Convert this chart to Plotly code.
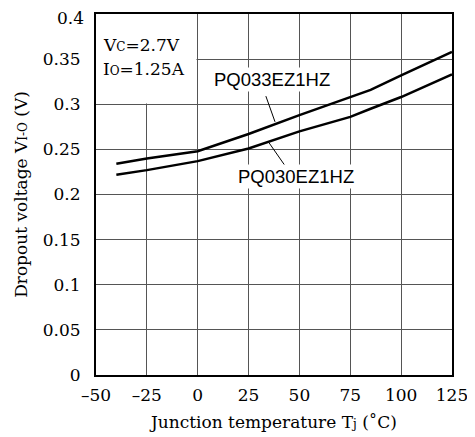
import plotly.graph_objects as go

temps_033 = [-40, -25, 0, 25, 50, 75, 85, 100, 125]
vio_033 = [0.234, 0.240, 0.248, 0.267, 0.288, 0.308, 0.316, 0.332, 0.358]
temps_030 = [-40, -25, 0, 25, 50, 75, 85, 100, 125]
vio_030 = [0.222, 0.227, 0.237, 0.251, 0.270, 0.286, 0.295, 0.308, 0.333]

x_ticks = [-50, -25, 0, 25, 50, 75, 100, 125]
x_ticktext = ["–50", "–25", "0", "25", "50", "75", "100", "125"]
y_ticks = [0, 0.05, 0.1, 0.15, 0.2, 0.25, 0.3, 0.35, 0.4]
y_ticktext = ["0", "0.05", "0.1", "0.15", "0.2", "0.25", "0.3", "0.35", "0.4"]

serif = "DejaVu Serif"
sans = "Liberation Sans"

fig = go.Figure()
fig.add_trace(go.Scatter(x=temps_033, y=vio_033, mode="lines",
                         line=dict(color="black", width=2.5), showlegend=False))
fig.add_trace(go.Scatter(x=temps_030, y=vio_030, mode="lines",
                         line=dict(color="black", width=2.5), showlegend=False))

# white box for conditions text (hides grid)
fig.add_shape(type="rect", xref="x", yref="y", x0=-50, x1=-0.6, y0=0.3007, y1=0.4,
              fillcolor="white", line=dict(width=0), layer="between")

fig.add_annotation(x=-47.5, y=0.3655, xref="x", yref="y", xanchor="left", yanchor="middle",
                   text="V<span style='font-size:12px'>C</span>=2.7V", showarrow=False,
                   font=dict(family=serif, size=17, color="black"))
fig.add_annotation(x=-47.5, y=0.3395, xref="x", yref="y", xanchor="left", yanchor="middle",
                   text="I<span style='font-size:12px'>O</span>=1.25A", showarrow=False,
                   font=dict(family=serif, size=17, color="black"))

# leader lines
fig.add_shape(type="line", xref="x", yref="y", x0=33.5, y0=0.309, x1=38.0, y1=0.2805,
              line=dict(color="black", width=1))
fig.add_shape(type="line", xref="x", yref="y", x0=35.0, y0=0.2575, x1=43.2, y1=0.231,
              line=dict(color="black", width=1))

fig.add_annotation(x=36.5, y=0.327, xref="x", yref="y", text="PQ033EZ1HZ", showarrow=False,
                   font=dict(family=sans, size=18.5, color="black"), bgcolor="white", borderpad=1)
fig.add_annotation(x=48.5, y=0.2205, xref="x", yref="y", text="PQ030EZ1HZ", showarrow=False,
                   font=dict(family=sans, size=18.5, color="black"), bgcolor="white", borderpad=1)

# top tick label drawn slightly lower (as in the reference) so it is not clipped
axis_ticktext = y_ticktext[:-1] + [""]
fig.add_annotation(x=0, y=y_ticks[-1], xref="paper", yref="y", xanchor="right", yanchor="middle",
                   xshift=-10, yshift=-3.5, text=y_ticktext[-1], showarrow=False,
                   font=dict(family=serif, size=17, color="black"))

# page has an 8px body margin: figure is shifted by 8px
fig.update_layout(
    width=467, height=429,
    margin=dict(l=88, r=23, t=6, b=62),
    paper_bgcolor="white", plot_bgcolor="white",
    font=dict(family=serif, size=17, color="black"),
)
fig.update_xaxes(range=[-50, 125], tickvals=x_ticks, ticktext=x_ticktext,
                 showgrid=True, gridcolor="#555555", gridwidth=1,
                 showline=True, linecolor="black", linewidth=2, mirror=True,
                 ticks="", zeroline=False, ticklabelstandoff=4, automargin=False,
                 ticklabeloverflow="allow",
                 tickfont=dict(family=serif, size=17),
                 title=dict(text="Junction temperature T<span style='font-size:12px'>j</span> (˚C)",
                            font=dict(family=serif, size=17), standoff=12))
fig.update_yaxes(range=[0, 0.4], tickvals=y_ticks, ticktext=axis_ticktext,
                 showgrid=True, gridcolor="#555555", gridwidth=1,
                 showline=True, linecolor="black", linewidth=2, mirror=True,
                 ticks="", zeroline=False, ticklabelstandoff=10, automargin=False,
                 ticklabeloverflow="allow",
                 tickfont=dict(family=serif, size=17),
                 title=dict(text="Dropout voltage V<span style='font-size:12px'>I-O</span> (V)",
                            font=dict(family=serif, size=17), standoff=11))

fig.write_html("out.html")
